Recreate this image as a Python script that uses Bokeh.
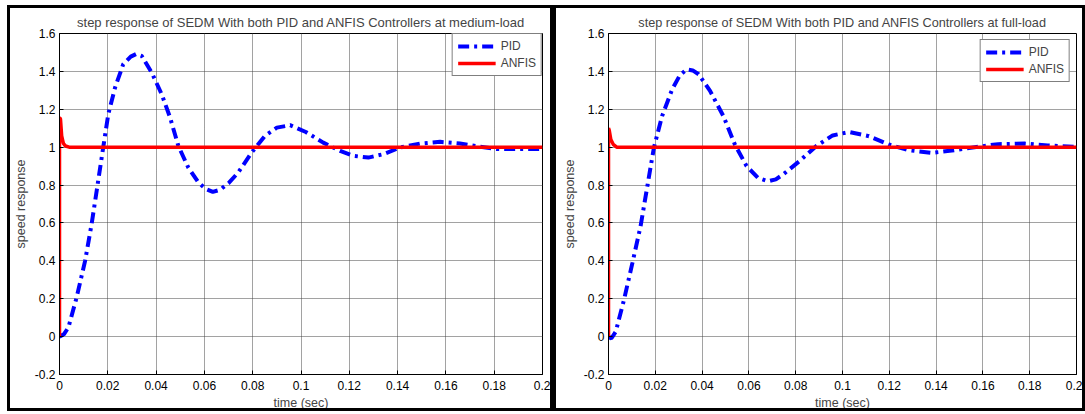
from bokeh.plotting import figure
from bokeh.layouts import row, column
from bokeh.models import FixedTicker, Spacer
from bokeh.embed import file_html
from bokeh.resources import INLINE

# ---- data ----
x_ticks = [0, 0.02, 0.04, 0.06, 0.08, 0.1, 0.12, 0.14, 0.16, 0.18, 0.2]
x_tick_labels = ["0", "0.02", "0.04", "0.06", "0.08", "0.1", "0.12", "0.14", "0.16", "0.18", "0.2"]
y_ticks = [-0.2, 0, 0.2, 0.4, 0.6, 0.8, 1, 1.2, 1.4, 1.6]
y_tick_labels = ["-0.2", "0", "0.2", "0.4", "0.6", "0.8", "1", "1.2", "1.4", "1.6"]

titles = [
    "step response of SEDM With both PID and ANFIS Controllers at medium-load",
    "step response of SEDM With both PID and ANFIS Controllers at full-load",
]
series_names = ["PID", "ANFIS"]

# medium-load
t_pid_med = [0, 0.0018, 0.0037, 0.0071, 0.0106, 0.0133, 0.0154, 0.0182, 0.0202, 0.023, 0.0264,
             0.0295, 0.0318, 0.034, 0.0382, 0.0423, 0.0458, 0.0492, 0.0533, 0.0575, 0.0605,
             0.0635, 0.0665, 0.070, 0.074, 0.0796, 0.0851, 0.090, 0.0955, 0.102, 0.1092,
             0.1162, 0.1217, 0.1279, 0.1341, 0.141, 0.1493, 0.1576, 0.1658, 0.1741, 0.181,
             0.188, 0.2]
v_pid_med = [0, 0.012, 0.049, 0.207, 0.40, 0.594, 0.77, 1.007, 1.174, 1.314, 1.438,
             1.478, 1.492, 1.482, 1.393, 1.28, 1.156, 1.007, 0.893, 0.814, 0.78,
             0.764, 0.775, 0.81, 0.866, 0.972, 1.06, 1.103, 1.116, 1.08, 1.024,
             0.98, 0.954, 0.945, 0.963, 0.998, 1.019, 1.028, 1.019, 1.003, 0.99,
             0.99, 0.99]
t_anfis_med = [0, 0, 0.0004, 0.0009, 0.0016, 0.0025, 0.0040, 0.2]
v_anfis_med = [0, 1.155, 1.15, 1.06, 1.02, 1.006, 1.0, 1.0]

# full-load
t_pid_full = [0, 0.0012, 0.0031, 0.0066, 0.0102, 0.0137, 0.0166, 0.0194, 0.0229, 0.0272, 0.0305,
              0.0335, 0.036, 0.0385, 0.0434, 0.0491, 0.054, 0.059, 0.0639, 0.0682, 0.0715,
              0.0745, 0.0816, 0.0887, 0.0958, 0.1029, 0.1113, 0.1198, 0.1283, 0.1382, 0.1467,
              0.158, 0.1665, 0.1778, 0.1877, 0.2]
v_pid_full = [0, -0.01, 0.026, 0.193, 0.388, 0.582, 0.794, 0.997, 1.164, 1.305, 1.38,
              1.411, 1.405, 1.385, 1.297, 1.164, 1.014, 0.90, 0.838, 0.82, 0.83,
              0.855, 0.926, 1.005, 1.062, 1.08, 1.058, 1.014, 0.984, 0.97, 0.982,
              1.002, 1.016, 1.019, 1.009, 1.002]
t_anfis_full = [0, 0, 0.0003, 0.001, 0.002, 0.0035, 0.2]
v_anfis_full = [0, 1.10, 1.09, 1.04, 1.015, 1.0, 1.0]

FONT = "Liberation Sans"


def make_panel(title, t_pid, v_pid, t_anf, v_anf, width, mbl, mbr, leg_margin, title_size):
    p = figure(width=width, height=406, x_range=(0, 0.2), y_range=(-0.2, 1.6),
               output_backend="svg", toolbar_location=None, title=title,
               min_border_left=mbl, min_border_right=mbr, min_border_top=25,
               min_border_bottom=40,
               styles={"border": "3px solid black"})
    p.line(t_pid, v_pid, line_color="#0000ff", line_width=4, line_dash="11 5 3 5",
           legend_label=series_names[0])
    p.line(t_anf, v_anf, line_color="#ff0000", line_width=3.5,
           legend_label=series_names[1])

    p.title.text_font = FONT
    p.title.text_font_size = title_size
    p.title.text_font_style = "normal"
    p.title.align = "center"
    p.title.standoff = 8

    p.xaxis.ticker = FixedTicker(ticks=x_ticks)
    p.yaxis.ticker = FixedTicker(ticks=y_ticks)
    p.xaxis.major_label_overrides = dict(zip(x_ticks, x_tick_labels))
    p.yaxis.major_label_overrides = dict(zip(y_ticks, y_tick_labels))
    p.xaxis.axis_label = "time (sec)"
    p.yaxis.axis_label = "speed response"
    for ax in (p.xaxis, p.yaxis):
        ax.major_label_text_font = FONT
        ax.major_label_text_font_size = "12px"
        ax.major_label_text_color = "black"
        ax.axis_label_text_font = FONT
        ax.axis_label_text_font_size = "12.5px"
        ax.axis_label_text_font_style = "normal"
        ax.major_tick_in = 4
        ax.major_tick_out = 0
        ax.minor_tick_line_color = None
        ax.axis_line_color = "black"
        ax.major_tick_line_color = "black"
    p.xaxis.major_label_standoff = 6
    p.xaxis.axis_label_standoff = 3
    p.yaxis.major_label_standoff = 4
    p.yaxis.axis_label_standoff = 4

    p.grid.grid_line_color = "#444444"
    p.grid.grid_line_dash = "1 1"
    p.outline_line_color = "black"
    p.outline_line_width = 1
    p.background_fill_color = "white"
    p.border_fill_color = "white"

    lg = p.legend[0]
    lg.location = "top_right"
    lg.margin = leg_margin
    lg.border_line_color = "black"
    lg.border_line_width = 1
    lg.background_fill_alpha = 1
    lg.label_text_font = FONT
    lg.label_text_font_size = "12px"
    lg.glyph_width = 38
    lg.glyph_height = 14
    lg.label_standoff = 5
    lg.padding = 5
    lg.spacing = 3
    lg.label_height = 14
    return p


p1 = make_panel(titles[0], t_pid_med, v_pid_med, t_anfis_med, v_anfis_med,
                546, 48, 14, 0, "13px")
p2 = make_panel(titles[1], t_pid_full, v_pid_full, t_anfis_full, v_anfis_full,
                532, 52, 12, 6, "12.7px")

layout = column(Spacer(height=5),
                row(Spacer(width=7), p1, p2, spacing=0),
                spacing=0)
open("out.html", "w").write(file_html(layout, INLINE))
